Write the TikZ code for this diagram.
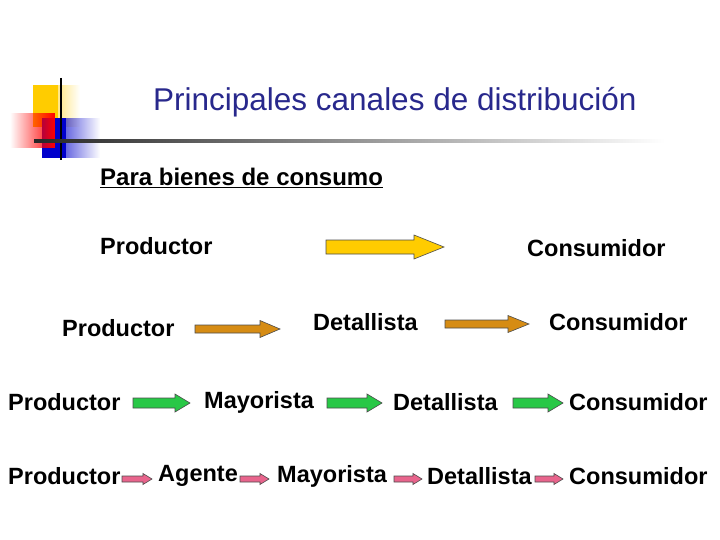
\documentclass[tikz,border=0pt]{standalone}
\usepackage{fontspec}
\setmainfont{Liberation Sans}
\usetikzlibrary{fadings}
\definecolor{ttl}{RGB}{40,40,140}
\definecolor{ylw}{RGB}{255,204,0}
\definecolor{org}{RGB}{214,140,20}
\definecolor{grn}{RGB}{40,200,70}
\definecolor{pnk}{RGB}{232,100,140}
\newcommand{\blockarrow}[7]{% x1 x2 y shafthalf headhalf headlen color
  \filldraw[fill=#7,draw=black!70,line width=0.6pt]
   (#1,#3-#4) -- (#2-#6,#3-#4) -- (#2-#6,#3-#5) -- (#2,#3) -- (#2-#6,#3+#5)
   -- (#2-#6,#3+#4) -- (#1,#3+#4) -- cycle;}
\tikzset{lbl/.style={anchor=west,inner sep=0pt,font=\fontsize{23.5}{28}\selectfont\bfseries}}
\begin{document}
\begin{tikzpicture}[x=1pt,y=-1pt]
\useasboundingbox (0,0) rectangle (720,540);
% logo
\fill[ylw,path fading=east] (33,85) rectangle (80,127);
\fill[ylw] (33,85) rectangle (58,127);
\fill[blue!80!black,path fading=east] (42,118) rectangle (100,158);
\fill[blue!80!black] (42,118) rectangle (66,158);
\fill[red,path fading=west] (10,113) rectangle (55,148);
\draw[line width=2pt] (61,78) -- (61,160);
\shade[left color=black!85,right color=white] (34,140) rectangle (665,142.5);
% titles
\node[anchor=west,inner sep=0pt,text=ttl,font=\fontsize{31.5}{36}\selectfont] (title) at (153,102) {Principales canales de distribución};
\node[anchor=west,inner sep=0pt,font=\fontsize{24}{28}\selectfont\bfseries] (sub) at (100,178) {\underline{Para bienes de consumo}};
% row 1
\node[lbl] (p1) at (100,246) {Productor};
\node[lbl] (c1) at (527,248) {Consumidor};
\blockarrow{326}{444}{247}{7}{12}{30}{ylw}
% row 2
\node[lbl] (p2) at (62,328) {Productor};
\node[lbl] (d2) at (313,322) {Detallista};
\node[lbl] (c2) at (549,322) {Consumidor};
\blockarrow{195}{280}{329}{4}{8.5}{20}{org}
\blockarrow{445}{529}{324}{4}{8.5}{21}{org}
% row 3
\node[lbl] (p3) at (8,402) {Productor};
\node[lbl] (m3) at (204,402) {Mayorista};
\node[lbl] (d3) at (393,402) {Detallista};
\node[lbl] (c3) at (569,402) {Consumidor};
\blockarrow{133}{190}{403}{5}{9}{15}{grn}
\blockarrow{327}{382}{403}{5}{9}{15}{grn}
\blockarrow{513}{563}{403}{5}{9}{15}{grn}
% row 4
\node[lbl] (p4) at (8,476) {Productor};
\node[lbl] (a4) at (158,476) {Agente};
\node[lbl] (m4) at (277,476) {Mayorista};
\node[lbl] (d4) at (427,476) {Detallista};
\node[lbl] (c4) at (569,476) {Consumidor};
\blockarrow{122}{152}{479}{3}{5.5}{9}{pnk}
\blockarrow{240}{269}{479}{3}{5.5}{9}{pnk}
\blockarrow{394}{422}{479}{3}{5.5}{9}{pnk}
\blockarrow{535}{563}{479}{3}{5.5}{9}{pnk}
\end{tikzpicture}
\end{document}
